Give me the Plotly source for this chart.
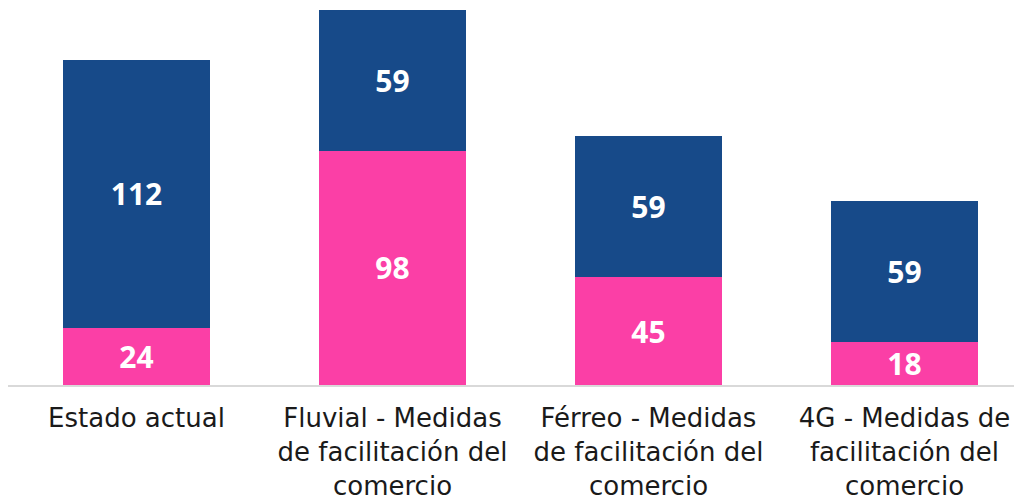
import plotly.graph_objects as go

categories = [
    "Estado actual",
    "Fluvial - Medidas<br>de facilitación del<br>comercio",
    "Férreo - Medidas<br>de facilitación del<br>comercio",
    "4G - Medidas de<br>facilitación del<br>comercio",
]
pink_values = [24, 98, 45, 18]
blue_values = [112, 59, 59, 59]

PINK = "#FB3FA6"
BLUE = "#174A89"
LABEL_FONT = dict(color="white", size=30, family="Open Sans")

fig = go.Figure()
fig.add_trace(go.Bar(
    x=categories, y=pink_values, marker=dict(color=PINK, line=dict(width=0)),
    width=0.574, text=pink_values, textposition="inside", insidetextanchor="middle",
    textangle=0, constraintext="none",
    textfont=LABEL_FONT, texttemplate="<b>%{text}</b>",
    showlegend=False,
))
fig.add_trace(go.Bar(
    x=categories, y=blue_values, marker=dict(color=BLUE, line=dict(width=0)),
    width=0.574, text=blue_values, textposition="inside", insidetextanchor="middle",
    textangle=0, constraintext="none",
    textfont=LABEL_FONT, texttemplate="<b>%{text}</b>",
    showlegend=False,
))
fig.update_layout(
    barmode="stack",
    width=1014, height=490,
    margin=dict(l=0, r=0, t=0, b=113),
    paper_bgcolor="white", plot_bgcolor="white",
    uniformtext=dict(minsize=30, mode="show"),
    font=dict(family="DejaVu Sans", color="#1a1a1a"),
    xaxis=dict(
        range=[-0.502, 3.459], showline=True, linecolor="#d9d9d9", linewidth=2,
        showgrid=False, ticks="", tickfont=dict(size=26, color="#1a1a1a"),
        ticklabelstandoff=9, automargin=False,
    ),
    yaxis=dict(range=[0, 157.7], visible=False, showgrid=False, automargin=False),
)
fig.write_html("out.html")
